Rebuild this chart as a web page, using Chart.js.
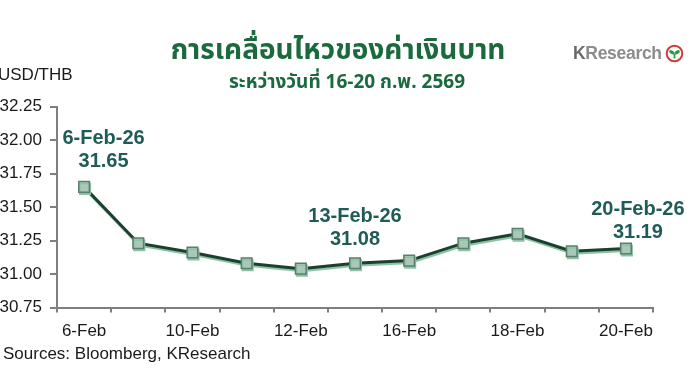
<!DOCTYPE html>
<html><head><meta charset="utf-8">
<script src="https://cdn.jsdelivr.net/npm/chart.js@4/dist/chart.umd.min.js"></script>
<style>
html,body{margin:0;padding:0;background:#fff;width:696px;height:385px;overflow:hidden;}
#wrap{position:relative;width:696px;height:385px;}
canvas{position:absolute;left:0;top:0;}
.t{position:absolute;white-space:nowrap;font-family:"Liberation Sans",Arial,sans-serif;color:#1a1a1a;}
</style></head><body>
<div id="wrap">
<canvas id="c" width="696" height="385"></canvas>
<div class="t" style="left:0;width:676px;text-align:center;top:34px;line-height:34px;font-size:28px;font-weight:bold;color:#1b6a3e;font-family:'Noto Sans Thai','Noto Sans','Liberation Sans',sans-serif;">การเคลื่อนไหวของค่าเงินบาท</div>
<div class="t" style="left:0;width:694px;text-align:center;top:71px;line-height:24px;font-size:19px;font-weight:bold;color:#1b6a3e;font-family:'Noto Sans Thai','Noto Sans','Liberation Sans',sans-serif;">ระหว่างวันที่ 16-20 ก.พ. 2569</div>
<div class="t" style="left:-2px;top:65px;line-height:20px;font-size:17px;">USD/THB</div>
<div class="t" style="left:3px;top:344px;line-height:20px;font-size:17px;">Sources: Bloomberg, KResearch</div>
<div class="t" style="left:573px;top:43px;line-height:20px;font-size:17.5px;font-weight:bold;color:#8c8c8c;letter-spacing:-0.3px;"><span style="color:#6a6a6a">K</span>Research</div>
<svg style="position:absolute;left:665px;top:44px" width="19" height="19" viewBox="0 0 19 19">
<circle cx="9.5" cy="9.5" r="7.8" fill="#fff" stroke="#d23a3a" stroke-width="2"/>
<path d="M9.5 14.5 L9.5 9.5" stroke="#2f9a45" stroke-width="1.8"/>
<ellipse cx="6.8" cy="8.3" rx="2.9" ry="1.8" fill="#2f9a45" transform="rotate(30 6.8 8.3)"/>
<ellipse cx="12.2" cy="8.3" rx="2.9" ry="1.8" fill="#2f9a45" transform="rotate(-30 12.2 8.3)"/>
</svg>
</div>
<script>
// ---- data ----
const categories = ['6-Feb','9-Feb','10-Feb','11-Feb','12-Feb','13-Feb','16-Feb','17-Feb','18-Feb','19-Feb','20-Feb'];
const usdThb = [31.65, 31.23, 31.16, 31.08, 31.04, 31.08, 31.10, 31.23, 31.30, 31.17, 31.19];
const xTickLabels = ['6-Feb','10-Feb','12-Feb','16-Feb','18-Feb','20-Feb'];
const yMin = 30.75, yMax = 32.25, yStep = 0.25;
const noteIndexes = [0, 5, 10];
const noteDates = ['6-Feb-26', '13-Feb-26', '20-Feb-26'];

// ---- styles ----
const noteOffsets = [{dx: 19.5, dy: -25}, {dx: 0, dy: -24}, {dx: 12, dy: -16}];
const axisColor = '#7f7f7f';
const tickFont = {family: "'Liberation Sans', Arial, sans-serif", size: 17};

const shadowPlugin = {
  id: 'lineShadow',
  beforeDatasetsDraw(chart) {
    const ctx = chart.ctx;
    ctx.save();
    ctx.shadowColor = '#8cc3a6';
    ctx.shadowOffsetX = 1;
    ctx.shadowOffsetY = 2;
    ctx.shadowBlur = 0;
  },
  afterDatasetsDraw(chart) {
    chart.ctx.restore();
  }
};

const notesPlugin = {
  id: 'notes',
  afterDraw(chart) {
    const ctx = chart.ctx;
    const meta = chart.getDatasetMeta(0);
    ctx.save();
    ctx.font = "bold 20px 'Liberation Sans', Arial, sans-serif";
    ctx.fillStyle = '#1f5c58';
    ctx.textAlign = 'center';
    ctx.textBaseline = 'middle';
    noteIndexes.forEach((idx, k) => {
      const p = meta.data[idx];
      const o = noteOffsets[k];
      const x = p.x + o.dx, y = p.y + o.dy;
      ctx.fillText(usdThb[idx].toFixed(2), x, y);
      ctx.fillText(noteDates[k], x, y - 23);
    });
    ctx.restore();
  }
};

new Chart(document.getElementById('c'), {
  type: 'line',
  data: {
    labels: categories,
    datasets: [{
      data: usdThb,
      borderColor: '#1d3f2e',
      borderWidth: 3,
      tension: 0,
      pointStyle: 'rect',
      pointRadius: 7.5,
      pointBackgroundColor: '#a9c8b7',
      pointBorderColor: '#5b7f6c',
      pointBorderWidth: 1.5,
      clip: false
    }]
  },
  options: {
    responsive: false,
    animation: false,
    devicePixelRatio: 1,
    layout: {padding: {top: 106.5, right: 43, bottom: 0, left: 0}},
    plugins: {legend: {display: false}, tooltip: {enabled: false}, title: {display: false}},
    scales: {
      x: {
        type: 'category',
        offset: true,
        grid: {offset: true, drawOnChartArea: false, tickLength: 5, color: axisColor, lineWidth: 2},
        border: {color: axisColor, width: 2},
        ticks: {
          autoSkip: false, maxRotation: 0, font: tickFont, color: '#1a1a1a', padding: 9,
          callback: function(v, i) { const l = categories[i]; return xTickLabels.includes(l) ? l : ''; }
        },
        afterFit: s => { s.height = 385 - 307.5; }
      },
      y: {
        min: yMin, max: yMax,
        grid: {drawOnChartArea: false, tickLength: 7, color: axisColor, lineWidth: 2},
        border: {color: axisColor, width: 2},
        ticks: {stepSize: yStep, font: tickFont, color: '#1a1a1a', padding: 8,
          callback: v => Number(v).toFixed(2)},
        afterFit: s => { s.width = 57; }
      }
    }
  },
  plugins: [shadowPlugin, notesPlugin]
});
</script>
</body></html>
